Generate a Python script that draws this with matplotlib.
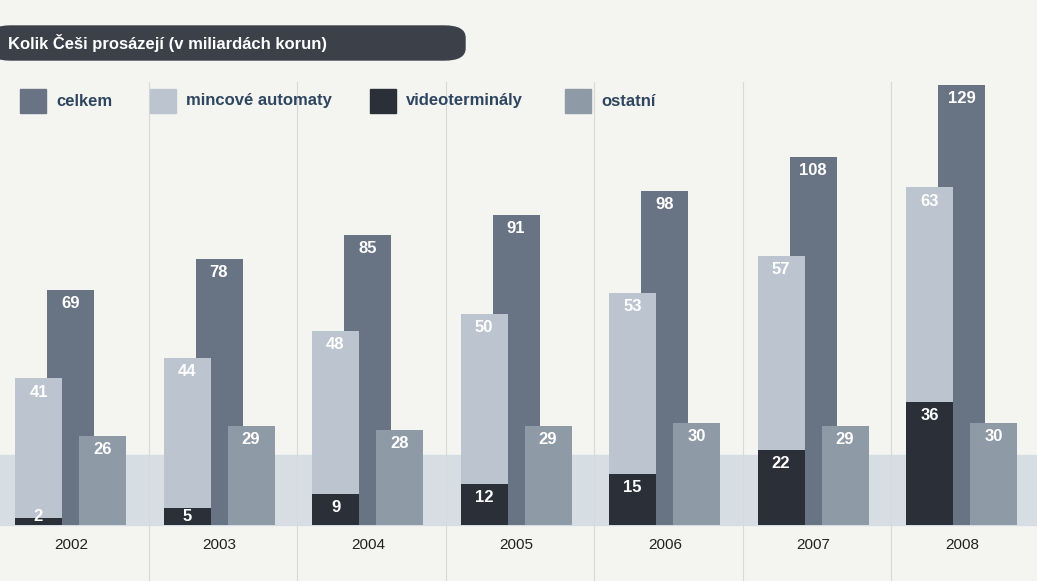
import matplotlib.pyplot as plt
from matplotlib.patches import FancyBboxPatch, Rectangle

years = ["2002", "2003", "2004", "2005", "2006", "2007", "2008"]
celkem = [69, 78, 85, 91, 98, 108, 129]
mincove = [41, 44, 48, 50, 53, 57, 63]
video = [2, 5, 9, 12, 15, 22, 36]
ostatni = [26, 29, 28, 29, 30, 29, 30]

C_CELK = "#687383"
C_MINC = "#bcc5cf"
C_VIDEO = "#2b3038"
C_OST = "#8f9aa7"

W, H = 1037, 581
fig = plt.figure(figsize=(W / 100, H / 100), dpi=100)
fig.patch.set_facecolor("#f4f4f1")
ax = fig.add_axes([0, 0, 1, 1])
ax.set_facecolor("none")
px = 3.41  # pixels per unit
base = 56
ax.set_xlim(0, W)
ax.set_ylim(-base / px, (H - base) / px)
ax.axis("off")

# bluish band at bottom
ax.add_patch(Rectangle((0, 0), W, 70 / px, color="#d6dee4", zorder=0))

step = 148.5
x0 = [i * step for i in range(len(years))]
bw = 47
xm = [x + 15 + bw / 2 for x in x0]
xc = [x + 47 + bw / 2 for x in x0]
xo = [x + 79 + bw / 2 for x in x0]

ax.bar(xc, celkem, bw, color=C_CELK, zorder=2)
ax.bar(xm, mincove, bw, bottom=video, color=C_MINC, zorder=3)
ax.bar(xm, video, bw, color=C_VIDEO, zorder=4)
ax.bar(xo, ostatni, bw, color=C_OST, zorder=3)

def lab(xs, vals, tops, z):
    for x, v, t in zip(xs, vals, tops):
        ax.text(x, max(t, 6.5) - 4, str(v), ha="center", va="center",
                color="white", fontsize=12, fontweight="bold",
                family="Liberation Sans", zorder=z)

lab(xc, celkem, celkem, 5)
lab(xm, mincove, [m + v for m, v in zip(mincove, video)], 5)
lab(xm, video, video, 6)
lab(xo, ostatni, ostatni, 5)

for i, x in enumerate(x0):
    if i > 0:
        ax.plot([x, x], [-16, 130], color="#d8d8d8", lw=0.8, zorder=1)
    ax.text(x + 71, -6, years[i], ha="center", va="center", fontsize=11,
            color="#222222", family="Liberation Sans")

# title box
fig.patches.append(FancyBboxPatch((-10 / W, 1 - 60 / H), 475 / W, 34 / H,
                                  boxstyle="round,pad=0,rounding_size=0.02",
                                  transform=fig.transFigure, color="#3b4049"))
fig.text(8 / W, 1 - 43 / H, "Kolik Češi prosázejí (v miliardách korun)",
         color="white", fontsize=12, fontweight="bold", va="center",
         family="Liberation Sans")

# legend
items = [("celkem", C_CELK, 20), ("mincové automaty", C_MINC, 150),
         ("videoterminály", C_VIDEO, 370), ("ostatní", C_OST, 565)]
for name, c, lx in items:
    fig.patches.append(Rectangle((lx / W, 1 - 113 / H), 26 / W, 24 / H,
                                 transform=fig.transFigure, color=c))
    fig.text((lx + 36) / W, 1 - 101 / H, name, color="#2f4660", fontsize=12,
             fontweight="bold", va="center", family="Liberation Sans")

fig.savefig("out.png", dpi=100, facecolor=fig.get_facecolor())
